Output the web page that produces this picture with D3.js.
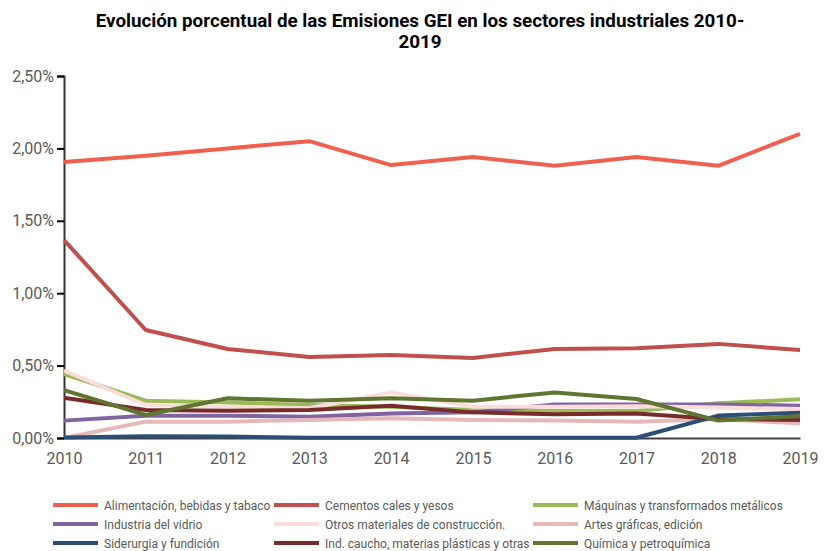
<!DOCTYPE html>
<html><head><meta charset="utf-8">
<script src="https://cdn.jsdelivr.net/npm/d3@7"></script>
<style>body{margin:0;background:#fff;} svg{display:block;}</style>
</head><body>
<script>
const years = [2010,2011,2012,2013,2014,2015,2016,2017,2018,2019];
const yTicks = [0,0.005,0.01,0.015,0.02,0.025];
const seriesNames = ["Alimentación, bebidas y tabaco","Cementos cales y yesos","Máquinas y transformados metálicos","Industria del vidrio","Otros materiales de construcción.","Artes gráficas, edición","Siderurgia y fundición","Ind. caucho, materias plásticas y otras","Química y petroquímica"];
const alimentacion = [1.906,1.950,2.000,2.050,1.885,1.940,1.880,1.940,1.880,2.100];
const cementos     = [1.367,0.746,0.615,0.560,0.573,0.553,0.615,0.620,0.650,0.608];
const maquinas     = [0.442,0.258,0.246,0.228,0.215,0.193,0.186,0.186,0.240,0.267];
const vidrio       = [0.120,0.154,0.154,0.147,0.170,0.177,0.232,0.232,0.232,0.223];
const otros        = [0.465,0.228,0.216,0.205,0.315,0.216,0.216,0.220,0.210,0.200];
const artes        = [0.000,0.113,0.113,0.124,0.136,0.124,0.120,0.113,0.129,0.101];
const siderurgia   = [0.003,0.012,0.010,0.002,0.002,0.002,0.002,0.002,0.155,0.175];
const caucho       = [0.278,0.193,0.189,0.193,0.223,0.177,0.164,0.170,0.131,0.124];
const quimica      = [0.331,0.159,0.274,0.258,0.274,0.258,0.315,0.269,0.120,0.152];
const seriesValues = [alimentacion,cementos,maquinas,vidrio,otros,artes,siderurgia,caucho,quimica];
const colors = ["#f0604e","#c0504d","#9bbb59","#8064a2","#fadcd8","#e6b9b8","#2c4d75","#772c2a","#5f7530"];

const W=824,H=551;
const svg=d3.select("body").append("svg").attr("width",W).attr("height",H);
const x=d3.scaleLinear().domain([2010,2019]).range([64,800]);
const y=d3.scaleLinear().domain([0,0.025]).range([438,76]);

const titleLines=["Evolución porcentual de las Emisiones GEI en los sectores industriales 2010-","2019"];
titleLines.forEach((t,i)=>{
  svg.append("text").attr("x",420).attr("y",27+i*21).attr("text-anchor","middle")
    .attr("font-family","Roboto").attr("font-weight","bold").attr("font-size",18.8).attr("fill","#000")
    .text(t);
});

const fmt = v => (v*100).toFixed(2).replace(".",",")+"%";
const yAxis = svg.append("g").attr("transform","translate(64,0)")
  .call(d3.axisLeft(y).tickValues(yTicks).tickFormat(fmt).tickSize(7).tickPadding(3));
yAxis.select(".domain").attr("stroke","#333").attr("stroke-width",2);
yAxis.selectAll(".tick line").attr("stroke","#000").attr("stroke-width",2);
yAxis.selectAll("text").attr("font-family","Roboto").attr("font-size",16).attr("fill","#595959");

const xAxis = svg.append("g").attr("transform","translate(0,438)")
  .call(d3.axisBottom(x).tickValues(years).tickFormat(d3.format("d")).tickSize(0).tickPadding(15));
xAxis.select(".domain").attr("stroke","#404040").attr("stroke-width",2);
xAxis.selectAll("text").attr("font-family","Roboto").attr("font-size",16).attr("fill","#595959");

const line=d3.line().x((d,i)=>x(years[i])).y(d=>y(d/100));
seriesValues.forEach((vals,i)=>{
  svg.append("path").datum(vals).attr("d",line).attr("fill","none")
    .attr("stroke",colors[i]).attr("stroke-width",4).attr("stroke-linejoin","round");
});

const colX=[53,274,533], rowY=[505,524,543];
seriesNames.forEach((n,i)=>{
  const cx=colX[i%3], cy=rowY[Math.floor(i/3)];
  svg.append("line").attr("x1",cx).attr("x2",cx+45).attr("y1",cy).attr("y2",cy)
    .attr("stroke",colors[i]).attr("stroke-width",4);
  svg.append("text").attr("x",cx+51).attr("y",cy+4.5).attr("font-family","Roboto")
    .attr("font-size",12).attr("fill","#595959").text(n);
});
</script>
</body></html>
